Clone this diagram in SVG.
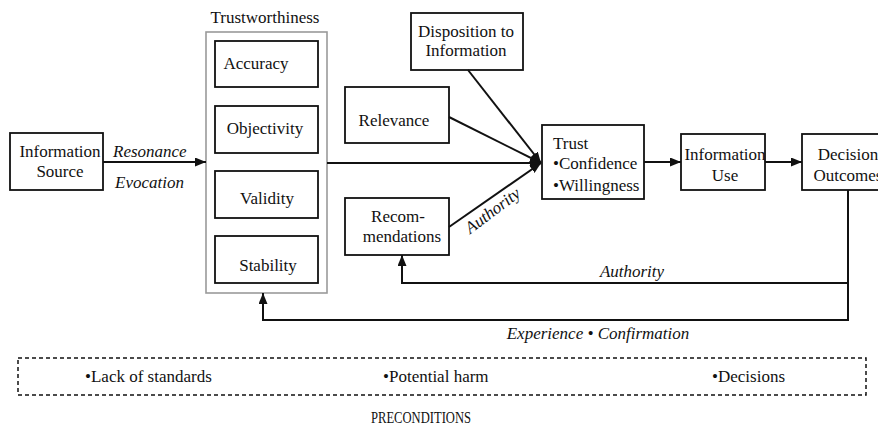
<svg xmlns="http://www.w3.org/2000/svg" width="878" height="429" viewBox="0 0 878 429">
<style>
text{font-family:"Liberation Serif","Times New Roman",serif;font-size:17px;fill:#111}
.c{text-anchor:middle}
.i{font-style:italic}
.box{fill:#fff;stroke:#111;stroke-width:1.8}
.outer{fill:#fff;stroke:#9a9a9a;stroke-width:1.6}
.ln{fill:none;stroke:#111;stroke-width:2}
.dash{fill:none;stroke:#111;stroke-width:1.5;stroke-dasharray:4 3}
</style>
<defs>
<marker id="ah" markerUnits="userSpaceOnUse" markerWidth="11" markerHeight="9" refX="11" refY="4.5" orient="auto">
<path d="M0,0 L11,4.5 L0,9 z" fill="#111"/>
</marker>
</defs>
<rect width="878" height="429" fill="#fff"/>

<g id="information-source">
<rect class="box" x="10" y="133" width="93" height="57"/>
<text class="c" x="60" y="157">Information</text>
<text class="c" x="60" y="177">Source</text>
</g>

<g id="trustworthiness">
<text class="c" x="265" y="23">Trustworthiness</text>
<rect class="outer" x="206" y="32" width="121" height="261"/>
<g id="accuracy"><rect class="box" x="215" y="41" width="103" height="46"/><text class="c" x="256" y="69">Accuracy</text></g>
<g id="objectivity"><rect class="box" x="215" y="106" width="103" height="47"/><text class="c" x="265" y="134">Objectivity</text></g>
<g id="validity"><rect class="box" x="215" y="171" width="103" height="47"/><text class="c" x="267" y="204">Validity</text></g>
<g id="stability"><rect class="box" x="215" y="236" width="103" height="47"/><text class="c" x="268" y="271">Stability</text></g>
</g>

<g id="disposition">
<rect class="box" x="411" y="13" width="112" height="57"/>
<text class="c" x="466" y="37">Disposition to</text>
<text class="c" x="466" y="56">Information</text>
</g>

<g id="relevance">
<rect class="box" x="345" y="87" width="104" height="56"/>
<text class="c" x="394" y="126">Relevance</text>
</g>

<g id="recommendations">
<rect class="box" x="345" y="198" width="104" height="57"/>
<text class="c" x="398" y="222">Recom-</text>
<text class="c" x="402" y="242">mendations</text>
</g>

<g id="trust">
<rect class="box" x="542" y="125" width="102" height="74"/>
<text x="553" y="149">Trust</text>
<text x="553" y="169">•Confidence</text>
<text x="553" y="191">•Willingness</text>
</g>

<g id="information-use">
<rect class="box" x="681" y="134" width="84" height="56"/>
<text class="c" x="725" y="160">Information</text>
<text class="c" x="725" y="181">Use</text>
</g>

<g id="decision-outcomes">
<rect class="box" x="802" y="134" width="90" height="56"/>
<text class="c" x="848" y="160">Decision</text>
<text class="c" x="848" y="181">Outcomes</text>
</g>

<g id="connectors">
<line class="ln" x1="103" y1="162" x2="206" y2="162" marker-end="url(#ah)"/>
<line class="ln" x1="327" y1="163" x2="541" y2="163" marker-end="url(#ah)"/>
<line class="ln" x1="449" y1="117" x2="541" y2="163" marker-end="url(#ah)"/>
<line class="ln" x1="468" y1="70" x2="541" y2="163" marker-end="url(#ah)"/>
<line class="ln" x1="449" y1="227" x2="541" y2="163" marker-end="url(#ah)"/>
<line class="ln" x1="644" y1="162" x2="681" y2="162" marker-end="url(#ah)"/>
<line class="ln" x1="765" y1="162" x2="802" y2="162" marker-end="url(#ah)"/>
<polyline class="ln" points="848,190 848,283 402,283 402,255" marker-end="url(#ah)"/>
<polyline class="ln" points="848,283 848,320 263,320 263,293" marker-end="url(#ah)"/>
<text class="i" x="113" y="157">Resonance</text>
<text class="i" x="115" y="188">Evocation</text>
<text class="i c" transform="translate(496,215) rotate(-37)">Authority</text>
<text class="i c" x="632" y="277">Authority</text>
<text class="i c" x="598" y="339">Experience • Confirmation</text>
</g>

<g id="preconditions">
<rect class="dash" x="18" y="358" width="848" height="37"/>
<text x="85" y="382">•Lack of standards</text>
<text x="383" y="382">•Potential harm</text>
<text x="712" y="382">•Decisions</text>
<text class="c" x="421" y="423" font-size="16" textLength="100" lengthAdjust="spacingAndGlyphs">PRECONDITIONS</text>
</g>
</svg>
